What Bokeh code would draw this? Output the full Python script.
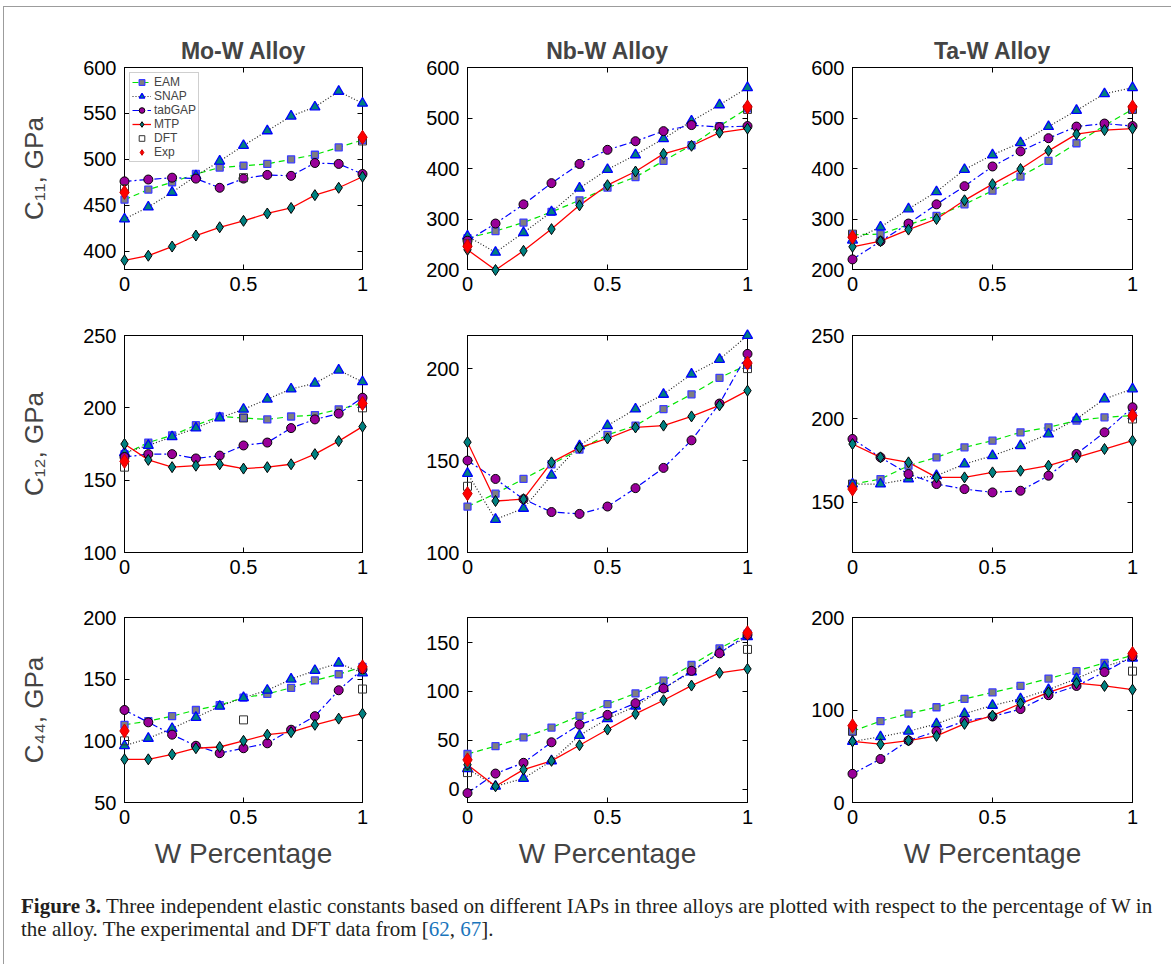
from bokeh.plotting import figure
from bokeh.models import LinearAxis, Range1d, FixedTicker, Legend, LegendItem, Div
from bokeh.layouts import row, column
from bokeh.embed import file_html
from bokeh.resources import INLINE

FONT = "Liberation Sans"

# ---------------- data ----------------
W = [0.0, 0.1, 0.2, 0.3, 0.4, 0.5, 0.6, 0.7, 0.8, 0.9, 1.0]
W_ENDS = [0.0, 1.0]
W_MO_DFT = [0.0, 0.5, 1.0]

# Mo-W
mow_c11_eam = [456, 467, 475, 484, 491, 493, 495, 500, 505, 513, 521]
mow_c11_snap = [435, 448, 464, 482, 498, 515, 531, 547, 557, 574, 561]
mow_c11_tabgap = [476, 478, 480, 479, 469, 479, 483, 482, 496, 495, 484]
mow_c11_mtp = [390, 395, 405, 417, 426, 433, 441, 447, 461, 469, 481]
mow_c11_dft = [468, 480, 520]
mow_c11_exp = [464, 524]

mow_c12_eam = [168, 176, 181, 188, 194, 193, 192, 194, 195, 199, 203]
mow_c12_snap = [169, 174, 180, 186, 193, 199, 206, 213, 217, 226, 218]
mow_c12_tabgap = [166, 168, 168, 165, 167, 174, 176, 186, 192, 196, 207]
mow_c12_mtp = [175, 164, 159, 160, 161, 158, 159, 161, 168, 177, 187]
mow_c12_dft = [159, 193, 200]
mow_c12_exp = [163, 203]

mow_c44_eam = [113, 116, 120, 125, 129, 135, 138, 143, 149, 154, 160]
mow_c44_snap = [96, 102, 110, 119, 128, 135, 141, 150, 157, 163, 155]
mow_c44_tabgap = [125, 115, 105, 96, 90, 94, 98, 109, 120, 141, 158]
mow_c44_mtp = [85, 85, 89, 94, 95, 100, 105, 107, 113, 118, 122]
mow_c44_dft = [100, 117, 142]
mow_c44_exp = [108, 160]

# Nb-W
nbw_c11_eam = [262, 276, 293, 314, 337, 362, 383, 415, 446, 484, 519]
nbw_c11_snap = [266, 234, 273, 314, 361, 398, 427, 459, 494, 526, 560]
nbw_c11_tabgap = [257, 291, 329, 371, 409, 437, 454, 474, 486, 482, 484]
nbw_c11_mtp = [239, 199, 237, 280, 327, 367, 394, 429, 445, 471, 479]
nbw_c11_dft = [251, 517]
nbw_c11_exp = [246, 522]

nbw_c12_eam = [125, 132, 140, 148, 156, 164, 169, 178, 186, 195, 202]
nbw_c12_snap = [143, 118, 124, 142, 158, 169, 178, 186, 197, 205, 218]
nbw_c12_tabgap = [150, 140, 129, 122, 121, 125, 135, 146, 161, 181, 208]
nbw_c12_mtp = [160, 128, 129, 149, 157, 162, 168, 169, 174, 180, 188]
nbw_c12_dft = [136, 200]
nbw_c12_exp = [132, 203]

nbw_c44_eam = [36, 44, 53, 63, 75, 87, 98, 111, 127, 144, 159]
nbw_c44_snap = [21, 3, 11, 29, 55, 72, 85, 103, 120, 140, 156]
nbw_c44_tabgap = [-4, 16, 27, 48, 66, 76, 88, 103, 121, 139, 158]
nbw_c44_mtp = [25, 3, 20, 29, 45, 61, 77, 91, 106, 119, 123]
nbw_c44_dft = [17, 143]
nbw_c44_exp = [30, 160]

# Ta-W
taw_c11_eam = [269, 270, 289, 306, 329, 356, 384, 415, 450, 485, 517]
taw_c11_snap = [258, 284, 320, 354, 398, 427, 451, 483, 515, 548, 560]
taw_c11_tabgap = [220, 256, 291, 329, 365, 404, 434, 460, 483, 489, 484]
taw_c11_mtp = [245, 256, 279, 300, 337, 369, 399, 435, 468, 476, 479]
taw_c11_dft = [270, 517]
taw_c11_exp = [264, 522]

taw_c12_eam = [161, 164, 172, 177, 183, 187, 192, 195, 199, 201, 202]
taw_c12_snap = [161, 161, 164, 166, 173, 178, 184, 191, 200, 212, 218]
taw_c12_tabgap = [188, 177, 167, 161, 158, 156, 157, 166, 179, 192, 207]
taw_c12_mtp = [185, 177, 174, 165, 165, 168, 169, 172, 177, 182, 187]
taw_c12_dft = [161, 200]
taw_c12_exp = [158, 202]

taw_c44_eam = [77, 88, 96, 103, 112, 119, 126, 134, 142, 151, 159]
taw_c44_snap = [66, 71, 77, 85, 96, 105, 112, 122, 134, 147, 156]
taw_c44_tabgap = [31, 47, 67, 77, 88, 93, 101, 116, 126, 141, 158]
taw_c44_mtp = [66, 63, 67, 72, 85, 94, 107, 119, 129, 126, 122]
taw_c44_dft = [77, 142]
taw_c44_exp = [83, 161]

titles = ["Mo-W Alloy", "Nb-W Alloy", "Ta-W Alloy"]
ylabels = ["C\u2081\u2081, GPa", "C\u2081\u2082, GPa", "C\u2084\u2084, GPa"]
xlabel = "W Percentage"
x_ticks = [0, 0.5, 1]
x_tick_labels = {0: "0", 0.5: "0.5", 1: "1"}

y_limits = [
    [(380, 600), (200, 600), (200, 600)],
    [(100, 250), (100, 218), (120, 250)],
    [(50, 200), (-13.6, 175.6), (0, 200)],
]
y_ticks = [
    [[400, 450, 500, 550, 600], [200, 300, 400, 500, 600], [200, 300, 400, 500, 600]],
    [[100, 150, 200, 250], [100, 150, 200], [150, 200, 250]],
    [[50, 100, 150, 200], [0, 50, 100, 150], [0, 100, 200]],
]

panel_data = [
    [
        (mow_c11_eam, mow_c11_snap, mow_c11_tabgap, mow_c11_mtp, W_MO_DFT, mow_c11_dft, mow_c11_exp),
        (nbw_c11_eam, nbw_c11_snap, nbw_c11_tabgap, nbw_c11_mtp, W_ENDS, nbw_c11_dft, nbw_c11_exp),
        (taw_c11_eam, taw_c11_snap, taw_c11_tabgap, taw_c11_mtp, W_ENDS, taw_c11_dft, taw_c11_exp),
    ],
    [
        (mow_c12_eam, mow_c12_snap, mow_c12_tabgap, mow_c12_mtp, W_MO_DFT, mow_c12_dft, mow_c12_exp),
        (nbw_c12_eam, nbw_c12_snap, nbw_c12_tabgap, nbw_c12_mtp, W_ENDS, nbw_c12_dft, nbw_c12_exp),
        (taw_c12_eam, taw_c12_snap, taw_c12_tabgap, taw_c12_mtp, W_ENDS, taw_c12_dft, taw_c12_exp),
    ],
    [
        (mow_c44_eam, mow_c44_snap, mow_c44_tabgap, mow_c44_mtp, W_MO_DFT, mow_c44_dft, mow_c44_exp),
        (nbw_c44_eam, nbw_c44_snap, nbw_c44_tabgap, nbw_c44_mtp, W_ENDS, nbw_c44_dft, nbw_c44_exp),
        (taw_c44_eam, taw_c44_snap, taw_c44_tabgap, taw_c44_mtp, W_ENDS, taw_c44_dft, taw_c44_exp),
    ],
]

# ---------------- layout geometry ----------------
FRAME_W = [238, 280, 280]
BORDER_L = [120, 52, 52]
BORDER_R = [53, 53, 34]
FRAME_H = [202, 217, 185]
BORDER_T = [60, 34, 32]
BORDER_B = [32, 33, 78]

TICK_FS = "20px"
TITLE_FS = "23px"
YLAB_FS = "26px"
XLAB_FS = "28px"


def style_axis(ax, ticks, labels=True):
    ax.ticker = FixedTicker(ticks=ticks)
    ax.major_tick_in = 5
    ax.major_tick_out = 0
    ax.minor_tick_line_color = None
    ax.axis_line_color = "black"
    ax.major_tick_line_color = "black"
    ax.major_label_text_font = FONT
    if labels:
        ax.major_label_text_color = "black"
        ax.major_label_text_font_size = TICK_FS
    else:
        ax.major_label_text_color = None
        ax.major_label_text_font_size = "1px"
        ax.major_label_standoff = 0


def make_panel(r, c):
    eam, snap, tabgap, mtp, x_dft, dft, exp = panel_data[r][c]
    p = figure(
        frame_width=FRAME_W[c], frame_height=FRAME_H[r],
        x_range=Range1d(0, 1), y_range=Range1d(*y_limits[r][c]),
        min_border_left=BORDER_L[c], min_border_right=BORDER_R[c],
        min_border_top=BORDER_T[r], min_border_bottom=BORDER_B[r],
        output_backend="svg", toolbar_location=None,
        background_fill_color="white", border_fill_color="white",
    )
    p.xgrid.visible = False
    p.ygrid.visible = False
    p.outline_line_color = "black"
    p.outline_line_width = 1

    xax = p.below[0]
    yax = p.left[0]
    style_axis(xax, x_ticks)
    xax.major_label_overrides = x_tick_labels
    xax.major_label_standoff = 7
    style_axis(yax, y_ticks[r][c])
    yax.major_label_standoff = 8

    top = LinearAxis()
    style_axis(top, x_ticks, labels=False)
    p.add_layout(top, "above")
    right = LinearAxis()
    style_axis(right, y_ticks[r][c], labels=False)
    p.add_layout(right, "right")

    if c == 0:
        yax.axis_label = ylabels[r]
        yax.axis_label_text_font = FONT
        yax.axis_label_text_font_size = YLAB_FS
        yax.axis_label_text_font_style = "normal"
        yax.axis_label_standoff = 31
    if r == 2:
        xax.axis_label = xlabel
        xax.axis_label_text_font = FONT
        xax.axis_label_text_font_size = XLAB_FS
        xax.axis_label_text_font_style = "normal"
        xax.axis_label_standoff = 11
    if r == 0:
        p.title.text = titles[c]
        p.title.align = "center"
        p.title.text_font = FONT
        p.title.text_font_size = TITLE_FS
        p.title.text_font_style = "bold"
        p.title.standoff = 8

    l_eam = p.line(W, eam, line_color="#00e600", line_width=1.2, line_dash="6 4")
    l_snap = p.line(W, snap, line_color="#222222", line_width=1.2, line_dash="1 2")
    l_tab = p.line(W, tabgap, line_color="#0000ff", line_width=1.2, line_dash="7 3 2 3")
    l_mtp = p.line(W, mtp, line_color="#ff0000", line_width=1.3)

    m_eam = p.scatter(W, eam, marker="square", size=7, fill_color="#7f7f7f",
                      line_color="#3c3cff", line_width=1.3, level="overlay")
    m_snap = p.scatter(W, snap, marker="triangle", size=10, fill_color="#008080",
                       line_color="#0000ff", line_width=1.3, level="overlay")
    m_tab = p.scatter(W, tabgap, marker="circle", size=9, fill_color="#990099",
                      line_color="black", line_width=1, level="overlay")
    m_mtp = p.scatter(W, mtp, marker="diamond", size=11, fill_color="#008080",
                      line_color="black", line_width=1, level="overlay")
    m_dft = p.scatter(x_dft, dft, marker="square", size=8, fill_alpha=0,
                      line_color="#333333", line_width=1, level="overlay")
    m_exp = p.scatter(W_ENDS, exp, marker="diamond", size=14, fill_color="#ff0000",
                      line_color="#cc0000", line_width=1, level="overlay")

    if r == 0 and c == 0:
        legend = Legend(items=[
            LegendItem(label="EAM", renderers=[l_eam, m_eam]),
            LegendItem(label="SNAP", renderers=[l_snap, m_snap]),
            LegendItem(label="tabGAP", renderers=[l_tab, m_tab]),
            LegendItem(label="MTP", renderers=[l_mtp, m_mtp]),
            LegendItem(label="DFT", renderers=[m_dft]),
            LegendItem(label="Exp", renderers=[m_exp]),
        ], location="top_left")
        legend.level = "overlay"
        legend.label_text_font = FONT
        legend.label_text_font_size = "12px"
        legend.glyph_width = 19
        legend.glyph_height = 14
        legend.label_height = 14
        legend.label_standoff = 3
        legend.spacing = 0
        legend.padding = 2
        legend.margin = 5
        legend.border_line_color = "#a0a0a0"
        legend.border_line_width = 1
        legend.background_fill_color = "white"
        legend.background_fill_alpha = 1
        p.add_layout(legend)
    return p


rows = []
for r in range(3):
    rows.append(row(*[make_panel(r, c) for c in range(3)]))

caption_html = (
    '<div style="font-family: \'Liberation Serif\', serif; font-size: 21px; '
    'line-height: 23px; color: #231f20; padding-left: 12px; padding-top: 10px; white-space: nowrap;">'
    '<b>Figure 3.</b> Three independent elastic constants based on different IAPs in three alloys '
    'are plotted with respect to the percentage of W in<br>the alloy. The experimental and DFT data '
    'from [<span style="color:#1a75bc">62</span>, <span style="color:#1a75bc">67</span>].'
    '</div>'
)
caption = Div(text=caption_html, width=1162, height=79)

layout = column(*rows, caption, margin=(6, 0, 0, 3),
                styles={"border": "1px solid #9c9c9c"})

open("out.html", "w").write(file_html(layout, INLINE))
